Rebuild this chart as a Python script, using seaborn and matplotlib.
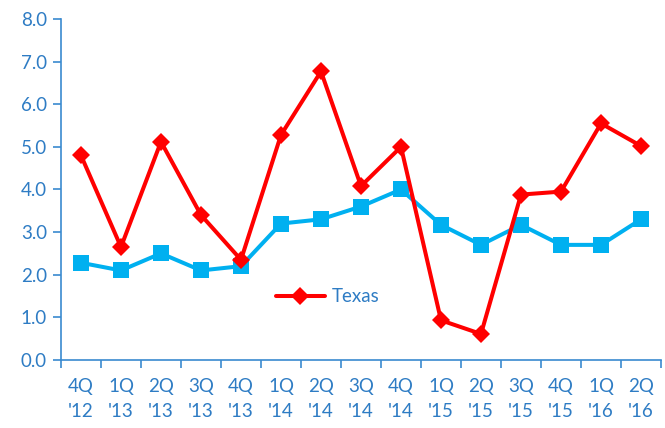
"""Quarterly growth chart: Texas vs comparison series."""
import numpy as np
import pandas as pd
import seaborn as sns
import matplotlib.pyplot as plt
from matplotlib.lines import Line2D

quarters = ["4Q\n'12", "1Q\n'13", "2Q\n'13", "3Q\n'13", "4Q\n'13",
            "1Q\n'14", "2Q\n'14", "3Q\n'14", "4Q\n'14", "1Q\n'15",
            "2Q\n'15", "3Q\n'15", "4Q\n'15", "1Q\n'16", "2Q\n'16"]
texas = [4.8, 2.65, 5.12, 3.4, 2.35, 5.28, 6.77, 4.08, 5.0, 0.93,
         0.61, 3.88, 3.95, 5.55, 5.02]
other = [2.28, 2.1, 2.5, 2.1, 2.2, 3.2, 3.3, 3.6, 4.0, 3.17,
         2.7, 3.17, 2.7, 2.7, 3.3]

blue_txt = '#2E7CC4'
axis_col = '#3A8AD0'

sns.set_style("white")
plt.rcParams['font.family'] = ['Lato', 'DejaVu Sans']

df = pd.DataFrame({'idx': np.arange(len(quarters)), 'texas': texas, 'other': other})

fig = plt.figure(figsize=(6.65, 4.28), dpi=100)
ax = fig.add_axes([0.0917, 0.159, 0.9023, 0.7966])

sns.lineplot(data=df, x='idx', y='other', ax=ax, color='#00B0F0', lw=2.9,
             marker='s', markersize=12, markeredgewidth=0, legend=False)
sns.lineplot(data=df, x='idx', y='texas', ax=ax, color='#FF0000', lw=2.9,
             marker='D', markersize=9, markeredgewidth=0, legend=False)

ax.set_xlim(-0.5, len(quarters) - 0.5)
ax.set_ylim(0, 8)
ax.set_yticks(np.arange(0, 8.1, 1.0))
ax.set_yticklabels([f'{v:.1f}' for v in np.arange(0, 8.1, 1.0)])
ax.set_xticks(df['idx'])
ax.set_xticklabels(quarters, linespacing=1.55)
ax.set_xticks(np.arange(-0.5, len(quarters)), minor=True)
ax.tick_params(axis='x', which='major', length=0, pad=13,
               labelsize=13.5, labelcolor=blue_txt)
ax.tick_params(axis='x', which='minor', length=6, width=1.2,
               color=axis_col, direction='out', bottom=True)
ax.tick_params(axis='y', length=6, width=1.2, color=axis_col, left=True,
               labelsize=13.5, labelcolor=blue_txt, pad=4)
ax.set_xlabel('')
ax.set_ylabel('')

for s in ['top', 'right']:
    ax.spines[s].set_visible(False)
for s in ['left', 'bottom']:
    ax.spines[s].set_color(axis_col)
    ax.spines[s].set_linewidth(1.2)

handle = Line2D([], [], color='#FF0000', lw=2.9, marker='D', markersize=9,
                markeredgewidth=0)
leg = ax.legend([handle], ['Texas'], loc='center left',
                bbox_to_anchor=(0.33, 0.185), frameon=False,
                handlelength=2.6, handletextpad=0.4, fontsize=13.5)
for t in leg.get_texts():
    t.set_color(blue_txt)

fig.savefig('out.png', dpi=100)
